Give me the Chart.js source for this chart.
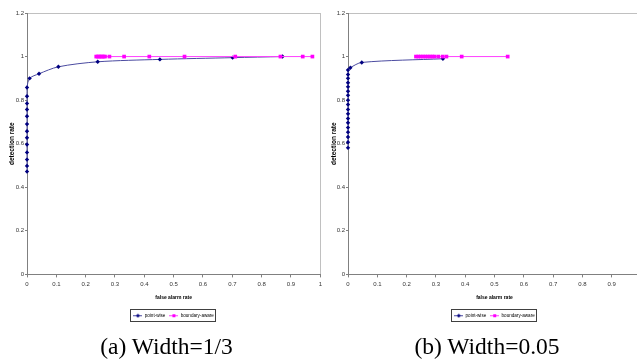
<!DOCTYPE html>
<html><head><meta charset="utf-8">
<script src="https://cdn.jsdelivr.net/npm/chart.js@4"></script>
<style>
html,body{margin:0;padding:0;width:637px;height:361px;overflow:hidden;background:#fff;}
#wrap{position:relative;width:637px;height:361px;overflow:hidden;}
.cv{position:absolute;top:0;}
.cap{position:absolute;top:335px;font-family:"Liberation Serif","DejaVu Serif","Times New Roman",serif;font-size:23.5px;line-height:1;color:#000;white-space:nowrap;transform:translateX(-50%);}
</style></head><body>
<div id="wrap">
<div class="cv" style="left:0;width:325px;height:336px"><canvas id="ca" width="325" height="336"></canvas></div>
<div class="cv" style="left:322px;width:330px;height:336px"><canvas id="cb" width="330" height="336"></canvas></div>
<div class="cap" style="left:166.5px">(a) Width=1/3</div>
<div class="cap" style="left:487px">(b) Width=0.05</div>
</div>
<script>
// ---- data ----
const seriesNames = ['point-wise', 'boundary-aware'];
const xTickLabels = ['0','0.1','0.2','0.3','0.4','0.5','0.6','0.7','0.8','0.9','1'];
const yTickLabels = ['0','0.2','0.4','0.6','0.8','1','1.2'];

// (a) Width=1/3
const pointwiseA_x = [0,0,0,0,0,0,0,0,0,0,0,0,0, 0.009,0.041,0.107,0.241,0.453,0.701,0.871];
const pointwiseA_y = [0.472,0.498,0.527,0.560,0.596,0.627,0.657,0.690,0.726,0.757,0.785,0.818,0.858, 0.900,0.921,0.953,0.976,0.987,0.995,1.0];
const boundaryA_x = [0.236,0.241,0.246,0.251,0.256,0.261,0.266,0.281,0.331,0.417,0.537,0.710,0.864,0.940,0.973];
const boundaryA_y = [1,1,1,1,1,1,1,1,1,1,1,1,1,1,1];

// (b) Width=0.05
const pointwiseB_x = [0,0,0,0,0,0,0,0,0,0,0,0,0,0,0,0,0,0, 0.008,0.047,0.324];
const pointwiseB_y = [0.581,0.607,0.631,0.653,0.674,0.696,0.716,0.737,0.757,0.780,0.800,0.822,0.841,0.861,0.880,0.900,0.918,0.938, 0.949,0.973,0.990];
const boundaryB_x = [0.232,0.240,0.248,0.256,0.264,0.272,0.280,0.288,0.295,0.308,0.323,0.336,0.388,0.545];
const boundaryB_y = [1,1,1,1,1,1,1,1,1,1,1,1,1,1];

// ---- styles ----
const NAVY = '#000080', NAVY_LINE = '#4b4ba0';
const PINK = '#ff00ff', PINK_LINE = '#ff40ff';
const SANS = '"Liberation Sans", Arial, sans-serif';

function pts(xs, ys){ return xs.map((x,i)=>({x:x, y:ys[i]})); }

function legendIcon(color, lineColor, shape){
  const c = document.createElement('canvas');
  c.width = 9; c.height = 5;
  const g = c.getContext('2d');
  g.strokeStyle = lineColor; g.lineWidth = 1;
  g.beginPath(); g.moveTo(0,2.5); g.lineTo(9,2.5); g.stroke();
  g.fillStyle = color;
  if (shape === 'diamond'){
    g.beginPath(); g.moveTo(4.5,0.5); g.lineTo(6.5,2.5); g.lineTo(4.5,4.5); g.lineTo(2.5,2.5); g.closePath(); g.fill();
  } else {
    g.fillRect(3,1,3,3);
  }
  return c;
}

const legendBorder = {
  id: 'legendBorder',
  afterDraw(chart){
    const hb = chart.legend && chart.legend.legendHitBoxes;
    if (!hb || !hb.length) return;
    let l = Infinity, r = -Infinity, t = Infinity, b = -Infinity;
    hb.forEach(h => { l = Math.min(l, h.left); r = Math.max(r, h.left + h.width); t = Math.min(t, h.top); b = Math.max(b, h.top + h.height); });
    const ctx = chart.ctx;
    ctx.save();
    ctx.strokeStyle = '#404040'; ctx.lineWidth = 1;
    ctx.strokeRect(Math.round(l - 3) + 0.5, Math.round(t - 4) + 0.5, Math.round(r - l + 5), Math.round(b - t + 7));
    ctx.restore();
  }
};

function makeChart(id, pwx, pwy, bdx, bdy, axisW, padRight){
  const iconNavy = legendIcon(NAVY, NAVY_LINE, 'diamond');
  const iconPink = legendIcon(PINK, PINK_LINE, 'square');
  return new Chart(document.getElementById(id), {
    type: 'scatter',
    data: {
      datasets: [
        { label: seriesNames[0], data: pts(pwx, pwy), showLine: true, tension: 0.3,
          borderColor: NAVY_LINE, borderWidth: 1, backgroundColor: NAVY,
          pointStyle: 'rectRot', pointRadius: 2.2, pointBorderWidth: 0, pointBackgroundColor: NAVY,
          clip: false, order: 1 },
        { label: seriesNames[1], data: pts(bdx, bdy), showLine: true, tension: 0,
          borderColor: PINK_LINE, borderWidth: 1, backgroundColor: PINK,
          pointStyle: 'rect', pointRadius: 2.6, pointBorderWidth: 0, pointBackgroundColor: PINK,
          clip: false, order: 0 }
      ]
    },
    options: {
      responsive: false, animation: false, devicePixelRatio: 1,
      layout: { padding: { top: 13, left: 0, right: padRight, bottom: 8 } },
      plugins: {
        tooltip: { enabled: false },
        legend: {
          position: 'bottom', fullSize: false,
          labels: {
            font: { size: 4.6, family: SANS }, color: '#000',
            usePointStyle: true, pointStyleWidth: 9, padding: 4,
            generateLabels: () => [
              { text: seriesNames[0], pointStyle: iconNavy, fillStyle: NAVY, strokeStyle: NAVY, lineWidth: 0, hidden: false, datasetIndex: 0, fontColor: '#000' },
              { text: seriesNames[1], pointStyle: iconPink, fillStyle: PINK, strokeStyle: PINK, lineWidth: 0, hidden: false, datasetIndex: 1, fontColor: '#000' }
            ]
          }
        }
      },
      scales: {
        x: {
          type: 'linear', min: 0, max: 1,
          afterFit: s => { s.height = 35; },
          ticks: { stepSize: 0.1, autoSkip: false, maxRotation: 0, padding: 3,
                   font: { size: 6, family: SANS }, color: '#333',
                   callback: (v, i) => xTickLabels[i] },
          grid: { color: c => (c.tick && Math.abs(c.tick.value - 1) < 1e-6) ? '#c0c0c0' : 'rgba(0,0,0,0)',
                  tickColor: '#808080', tickLength: 3, lineWidth: 1 },
          border: { color: '#808080', width: 1 },
          title: { display: true, text: 'false alarm rate', color: '#000',
                   font: { size: 5, weight: 'bold', family: SANS }, padding: { top: 0, bottom: 9 } }
        },
        y: {
          type: 'linear', min: 0, max: 1.2,
          afterFit: s => { s.width = axisW; },
          ticks: { stepSize: 0.2, autoSkip: false, padding: 1,
                   font: { size: 6, family: SANS }, color: '#333',
                   callback: (v, i) => yTickLabels[i] },
          grid: { color: c => (c.tick && Math.abs(c.tick.value - 1.2) < 1e-6) ? '#c0c0c0' : 'rgba(0,0,0,0)',
                  tickColor: '#808080', tickLength: 2, lineWidth: 1 },
          border: { color: '#808080', width: 1 },
          title: { display: true, text: 'detection rate', color: '#000',
                   font: { size: 6.5, weight: 'bold', family: SANS }, padding: { top: 8, bottom: 0 } }
        }
      }
    },
    plugins: [legendBorder]
  });
}

makeChart('ca', pointwiseA_x, pointwiseA_y, boundaryA_x, boundaryA_y, 27, 0);
makeChart('cb', pointwiseB_x, pointwiseB_y, boundaryB_x, boundaryB_y, 26, 11);
</script>
</body></html>
